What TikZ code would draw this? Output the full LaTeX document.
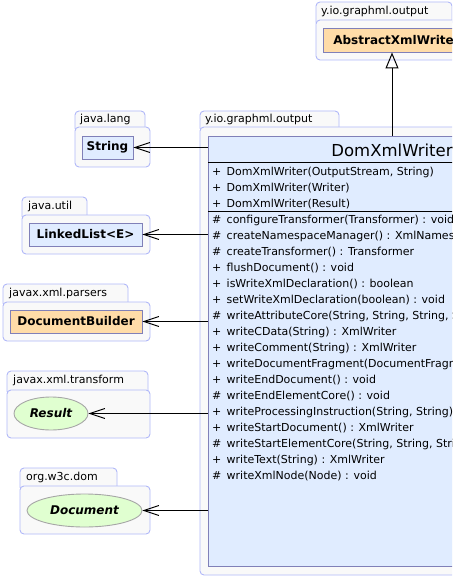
\documentclass[tikz,border=0pt]{standalone}
\usepackage{fontspec}
\setmainfont{DejaVu Sans}
\usetikzlibrary{arrows.meta,shapes.geometric}
\definecolor{pkgline}{RGB}{176,184,248}
\definecolor{pkgfill}{RGB}{249,249,249}
\definecolor{clsline}{RGB}{128,128,184}
\definecolor{clsfill}{RGB}{224,236,255}
\definecolor{absfill}{RGB}{255,220,168}
\definecolor{ifcfill}{RGB}{224,255,208}
\tikzset{
  pkg/.style={draw=pkgline, fill=pkgfill, rounded corners=4pt, line width=0.9pt},
  pkglabel/.style={anchor=west, inner sep=0pt, font=\fontsize{11}{13}\selectfont},
  cls/.style={draw=clsline, fill=clsfill, line width=0.9pt, inner sep=0pt,
    minimum height=23pt, font=\fontsize{12}{14}\selectfont\bfseries},
  ifc/.style={ellipse, draw=gray!70, fill=ifcfill, line width=0.9pt, inner sep=0pt,
    minimum height=33pt, font=\fontsize{12}{14}\selectfont\bfseries\itshape},
  row/.style={anchor=west, inner sep=0pt, font=\fontsize{11}{13}\selectfont},
  dep/.style={line width=1pt, -{Straight Barb[length=15pt,width=10pt,line width=0.9pt]}},
  inh/.style={line width=1pt, -{Triangle[open,length=16pt,width=13pt,line width=1pt]}}
}
\begin{document}
\begin{tikzpicture}[x=1pt,y=-1pt]
\useasboundingbox (0,0) rectangle (452,577);
\clip (0,0) rectangle (452,577);
% packages
\draw[pkg] (316,2) rectangle (452,26);
\draw[pkg] (316,20) rectangle (478,60);
\node[pkglabel] (toptab) at (321,11) {y.io.graphml.output};
\draw[pkg] (75,111) rectangle (145,132);
\draw[pkg] (75,127) rectangle (150,167);
\node[pkglabel] (langtab) at (80,119) {java.lang};
\draw[pkg] (200,111) rectangle (339,132);
\draw[pkg] (200,127) rectangle (600,575);
\node[pkglabel] (maintab) at (205,119) {y.io.graphml.output};
\draw[pkg] (22,197) rectangle (87,220);
\draw[pkg] (22,215) rectangle (150,254);
\node[pkglabel] (utiltab) at (28,206) {java.util};
\draw[pkg] (3,284) rectangle (128,307);
\draw[pkg] (3,302) rectangle (150,341);
\node[pkglabel] (parsertab) at (9,293) {javax.xml.parsers};
\draw[pkg] (7,371) rectangle (148,395);
\draw[pkg] (7,390) rectangle (150,438);
\node[pkglabel] (transtab) at (13,380.5) {javax.xml.transform};
\draw[pkg] (20,468) rectangle (117,491);
\draw[pkg] (20,486) rectangle (150,534);
\node[pkglabel] (domtab) at (26,477) {org.w3c.dom};
% classes
\node[cls, fill=absfill, minimum width=147pt, minimum height=24pt] (abs) at (396.5,40) {AbstractXmlWriter};
\node[cls, minimum width=51pt] (str) at (107.5,147.5) {String};
\node[cls, minimum width=113pt] (list) at (85.5,234.5) {LinkedList<E>};
\node[cls, fill=absfill, minimum width=132pt] (builder) at (76,321.5) {DocumentBuilder};
\node[ifc, minimum width=74pt] (result) at (51,413.5) {Result};
\node[ifc, minimum width=115pt] (doc) at (84.5,510.5) {Document};
\node[cls, minimum width=368pt, minimum height=430pt] (dom) at (392,351) {};
\node[font=\fontsize{16.5}{18}\selectfont] (domname) at (392,150) {DomXmlWriter};
\draw[line width=0.9pt] (208,162) -- (576,162);
\draw[line width=0.9pt] (208,211) -- (576,211);
\foreach \s/\t [count=\i from 0] in {
  +/{DomXmlWriter(OutputStream, String)},
  +/{DomXmlWriter(Writer)},
  +/{DomXmlWriter(Result)},
  \#/{configureTransformer(Transformer) : void},
  \#/{createNamespaceManager() : XmlNamespaceManager},
  \#/{createTransformer() : Transformer},
  +/{flushDocument() : void},
  +/{isWriteXmlDeclaration() : boolean},
  +/{setWriteXmlDeclaration(boolean) : void},
  \#/{writeAttributeCore(String, String, String, String) : void},
  +/{writeCData(String) : XmlWriter},
  +/{writeComment(String) : XmlWriter},
  +/{writeDocumentFragment(DocumentFragment) : XmlWriter},
  +/{writeEndDocument() : void},
  \#/{writeEndElementCore() : void},
  +/{writeProcessingInstruction(String, String) : XmlWriter},
  +/{writeStartDocument() : XmlWriter},
  \#/{writeStartElementCore(String, String, String) : void},
  +/{writeText(String) : XmlWriter},
  \#/{writeXmlNode(Node) : void}}
{
  \node[row] (sym\i) at (212,172+16*\i) {\s};
  \node[row] (op\i) at (226.5,172+16*\i) {\t};
}
% connectors
\draw[inh] (dom.north) -- (dom.north |- abs.south);
\draw[dep] (str -| dom.west) -- (str);
\draw[dep] (list -| dom.west) -- (list);
\draw[dep] (builder -| dom.west) -- (builder);
\draw[dep] (result -| dom.west) -- (result);
\draw[dep] (doc -| dom.west) -- (doc);
\end{tikzpicture}
\end{document}
